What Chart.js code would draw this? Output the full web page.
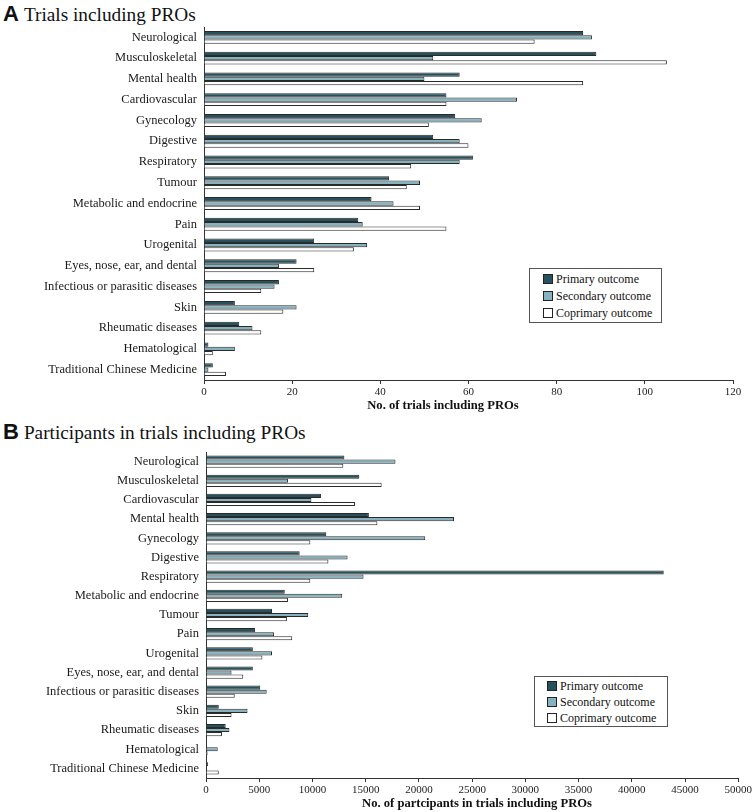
<!DOCTYPE html>
<html>
<head>
<meta charset="utf-8">
<script src="https://cdn.jsdelivr.net/npm/chart.js@4/dist/chart.umd.min.js"></script>
<style>
  html, body { margin: 0; padding: 0; background: #fff; }
  body { width: 754px; height: 812px; position: relative; overflow: hidden; }
  .ttl { position: absolute; left: 3px; white-space: nowrap; color: #111; }
  .ttl b { font-family: "Liberation Sans", Arial, sans-serif; font-weight: bold; font-size: 22px; margin-right: 5px; }
  .ttl span { font-family: "Liberation Serif", "Times New Roman", serif; font-size: 19.3px; }
  .wrap { position: absolute; left: 0; width: 754px; }
  .axt { position: absolute; white-space: nowrap; font-family: "Liberation Serif", "Times New Roman", serif;
         font-weight: bold; font-size: 12.6px; color: #111; transform: translateX(-50%); }
  .legend { position: absolute; box-sizing: border-box; border: 1px solid #555; background: #fff;
            font-family: "Liberation Serif", "Times New Roman", serif; font-size: 12px; color: #111; }
  .legend div { white-space: nowrap; }
  .legend i { display: inline-block; width: 8px; height: 8px; border: 1px solid #222; margin-right: 3px; vertical-align: -1px; }
</style>
</head>
<body>
<div class="ttl" style="top:1px;"><b>A</b><span>Trials including PROs</span></div>
<div class="wrap" style="top:0px;height:415px;"><canvas id="cA"></canvas></div>
<div class="ttl" style="top:419px;"><b>B</b><span>Participants in trials including PROs</span></div>
<div class="wrap" style="top:415px;height:397px;"><canvas id="cB"></canvas></div>
<div class="axt" id="axtA" style="left:443px;top:398px;"></div>
<div class="axt" id="axtB" style="left:477px;top:796px;"></div>
<div class="legend" id="legA" style="left:529px;top:268px;width:133px;height:55px;padding:2px 0 0 13px;line-height:17px;"></div>
<div class="legend" id="legB" style="left:534px;top:676px;width:134px;height:51px;padding:1px 0 0 12px;line-height:16px;"></div>
<script>
// ---------- DATA ----------
const seriesNames = ["Primary outcome", "Secondary outcome", "Coprimary outcome"];
const seriesColors = ["#27525d", "#86b2c0", "#ffffff"];

const categoriesA = ["Neurological", "Musculoskeletal", "Mental health", "Cardiovascular", "Gynecology",
  "Digestive", "Respiratory", "Tumour", "Metabolic and endocrine", "Pain", "Urogenital",
  "Eyes, nose, ear, and dental", "Infectious or parasitic diseases", "Skin", "Rheumatic diseases",
  "Hematological", "Traditional Chinese Medicine"];
const primaryA   = [86, 89, 58, 55, 57, 52, 61, 42, 38, 35, 25, 21, 17, 7, 8, 1, 2];
const secondaryA = [88, 52, 50, 71, 63, 58, 58, 49, 43, 36, 37, 17, 16, 21, 11, 7, 1];
const coprimaryA = [75, 105, 86, 55, 51, 60, 47, 46, 49, 55, 34, 25, 13, 18, 13, 2, 5];
const ticksA = [0, 20, 40, 60, 80, 100, 120];
const axisTitleA = "No. of trials including PROs";

const categoriesB = ["Neurological", "Musculoskeletal", "Cardiovascular", "Mental health", "Gynecology",
  "Digestive", "Respiratory", "Metabolic and endocrine", "Tumour", "Pain", "Urogenital",
  "Eyes, nose, ear, and dental", "Infectious or parasitic diseases", "Skin", "Rheumatic diseases",
  "Hematological", "Traditional Chinese Medicine"];
const primaryB   = [13000, 14400, 10800, 15300, 11300, 8800, 43000, 7400, 6200, 4600, 4400, 4400, 5100, 1200, 1850, 60, 200];
const secondaryB = [17800, 7700, 9900, 23300, 20600, 13300, 14800, 12800, 9600, 6400, 6200, 2400, 5700, 3900, 2200, 1100, 40];
const coprimaryB = [12900, 16500, 14000, 16100, 9800, 11500, 9800, 7700, 7600, 8100, 5300, 3500, 2700, 2400, 1500, 150, 1200];
const ticksB = [0, 5000, 10000, 15000, 20000, 25000, 30000, 35000, 40000, 45000, 50000];
const axisTitleB = "No. of partcipants in trials including PROs";

// ---------- CHARTS ----------
const serif = "'Liberation Serif', 'Times New Roman', serif";

function makeChart(id, cats, vals, ticks, cfg) {
  const datasets = vals.map((v, i) => ({
    label: seriesNames[i],
    data: v,
    backgroundColor: seriesColors[i],
    borderColor: "#2a2a2a",
    borderWidth: 1,
    barPercentage: 1.0,
    categoryPercentage: cfg.catPct
  }));
  return new Chart(document.getElementById(id), {
    type: "bar",
    data: { labels: cats, datasets },
    options: {
      indexAxis: "y",
      responsive: true,
      maintainAspectRatio: false,
      animation: false,
      layout: { padding: { top: cfg.top, right: cfg.right, left: 0, bottom: 0 } },
      plugins: { legend: { display: false }, tooltip: { enabled: false } },
      scales: {
        x: {
          min: ticks[0], max: ticks[ticks.length - 1],
          afterBuildTicks: (s) => { s.ticks = ticks.map(v => ({ value: v })); },
          grid: { drawOnChartArea: false, drawTicks: true, tickLength: 4, color: "#333" },
          border: { display: true, color: "#333", width: 1 },
          ticks: { font: { family: serif, size: 11 }, color: "#222", padding: 2, maxRotation: 0,
                   callback: (v) => String(v) },
          afterFit: (s) => { s.height = cfg.xh; }
        },
        y: {
          grid: { drawOnChartArea: false, drawTicks: false },
          border: { display: true, color: "#333", width: 1 },
          ticks: { font: { family: serif, size: 12.5 }, color: "#1a1a1a", padding: 7, autoSkip: false },
          afterFit: (s) => { s.width = cfg.yw; }
        }
      }
    }
  });
}

makeChart("cA", categoriesA, [primaryA, secondaryA, coprimaryA], ticksA,
  { catPct: 0.62, top: 27, right: 21, yw: 204, xh: 35 });
makeChart("cB", categoriesB, [primaryB, secondaryB, coprimaryB], ticksB,
  { catPct: 0.64, top: 37, right: 15, yw: 206, xh: 34 });

document.getElementById("axtA").textContent = axisTitleA;
document.getElementById("axtB").textContent = axisTitleB;

function fillLegend(id) {
  const el = document.getElementById(id);
  seriesNames.forEach((n, i) => {
    const d = document.createElement("div");
    const sw = document.createElement("i");
    sw.style.background = seriesColors[i];
    d.appendChild(sw);
    d.appendChild(document.createTextNode(n));
    el.appendChild(d);
  });
}
fillLegend("legA");
fillLegend("legB");
</script>
</body>
</html>
